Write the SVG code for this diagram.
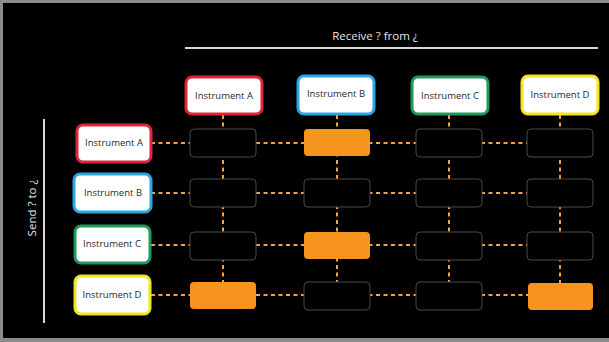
<svg xmlns="http://www.w3.org/2000/svg" width="609" height="342" viewBox="0 0 609 342">
  <style>
    .hdr { fill: #ffffff; stroke-width: 3; }
    .lbl { font-family: "Open Sans", "Liberation Sans", sans-serif; font-size: 9.5px; fill: #2a2a2a; text-anchor: middle; }
    .title { font-family: "Open Sans", "Liberation Sans", sans-serif; font-size: 11.5px; fill: #e6e6e6; text-anchor: middle; }
    .cell { fill: #000000; stroke: #4a4a4a; stroke-width: 1; }
    .on { fill: #f7941d; stroke: none; }
    .dash { stroke: #f3a24a; stroke-width: 2; stroke-dasharray: 4 3.5; fill: none; }
    .rule { stroke: #d8d8d8; stroke-width: 2; }
  </style>
  <rect x="0" y="0" width="609" height="342" fill="#8c8c8c"/>
  <rect x="3" y="3" width="606" height="335" fill="#000000"/>

  <text class="title" x="375" y="40">Receive ? from ¿</text>
  <line class="rule" x1="185" y1="48" x2="598" y2="48"/>
  <text class="title" transform="translate(36,208) rotate(-90)">Send ? to ¿</text>
  <line class="rule" x1="44" y1="119" x2="44" y2="323"/>

  <g id="connectors">
    <line class="dash" x1="151" y1="143" x2="560" y2="143"/>
    <line class="dash" x1="151" y1="193" x2="560" y2="193"/>
    <line class="dash" x1="151" y1="245" x2="560" y2="245"/>
    <line class="dash" x1="151" y1="295" x2="560" y2="295"/>
    <line class="dash" x1="223" y1="115" x2="223" y2="295"/>
    <line class="dash" x1="337" y1="115" x2="337" y2="295"/>
    <line class="dash" x1="449" y1="115" x2="449" y2="295"/>
    <line class="dash" x1="560" y1="115" x2="560" y2="295"/>
  </g>

  <g id="col-a"><rect class="hdr" x="186" y="77" width="76" height="37" rx="6" stroke="#d9283c"/><text class="lbl" x="224" y="99">Instrument A</text></g>
  <g id="col-b"><rect class="hdr" x="298" y="76" width="76" height="38" rx="6" stroke="#2aa7df"/><text class="lbl" x="336" y="97">Instrument B</text></g>
  <g id="col-c"><rect class="hdr" x="412" y="77" width="76" height="37" rx="6" stroke="#1e9a5c"/><text class="lbl" x="450" y="99">Instrument C</text></g>
  <g id="col-d"><rect class="hdr" x="522" y="76" width="76" height="38" rx="6" stroke="#f2e51e"/><text class="lbl" x="560" y="98">Instrument D</text></g>

  <g id="row-a"><rect class="hdr" x="77" y="125" width="74" height="37" rx="6" stroke="#d9283c"/><text class="lbl" x="114" y="146">Instrument A</text></g>
  <g id="row-b"><rect class="hdr" x="74" y="174" width="77" height="38" rx="6" stroke="#2aa7df"/><text class="lbl" x="113" y="196">Instrument B</text></g>
  <g id="row-c"><rect class="hdr" x="75" y="226" width="75" height="37" rx="6" stroke="#1e9a5c"/><text class="lbl" x="112" y="247">Instrument C</text></g>
  <g id="row-d"><rect class="hdr" x="75" y="276" width="75" height="38" rx="6" stroke="#f2e51e"/><text class="lbl" x="112" y="298">Instrument D</text></g>

  <g id="cells">
    <rect class="cell" x="190" y="129" width="66" height="28" rx="4"/>
    <rect class="on" x="304" y="129" width="66" height="27" rx="4"/>
    <rect class="cell" x="416" y="129" width="66" height="28" rx="4"/>
    <rect class="cell" x="527" y="129" width="66" height="28" rx="4"/>

    <rect class="cell" x="190" y="179" width="66" height="28" rx="4"/>
    <rect class="cell" x="304" y="179" width="66" height="28" rx="4"/>
    <rect class="cell" x="416" y="179" width="66" height="28" rx="4"/>
    <rect class="cell" x="527" y="179" width="66" height="28" rx="4"/>

    <rect class="cell" x="190" y="232" width="66" height="28" rx="4"/>
    <rect class="on" x="304" y="232" width="66" height="27" rx="4"/>
    <rect class="cell" x="416" y="232" width="66" height="28" rx="4"/>
    <rect class="cell" x="527" y="232" width="66" height="28" rx="4"/>

    <rect class="on" x="190" y="282" width="66" height="27" rx="4"/>
    <rect class="cell" x="304" y="282" width="66" height="28" rx="4"/>
    <rect class="cell" x="416" y="282" width="66" height="28" rx="4"/>
    <rect class="on" x="528" y="283" width="65" height="27" rx="4"/>
  </g>
</svg>
